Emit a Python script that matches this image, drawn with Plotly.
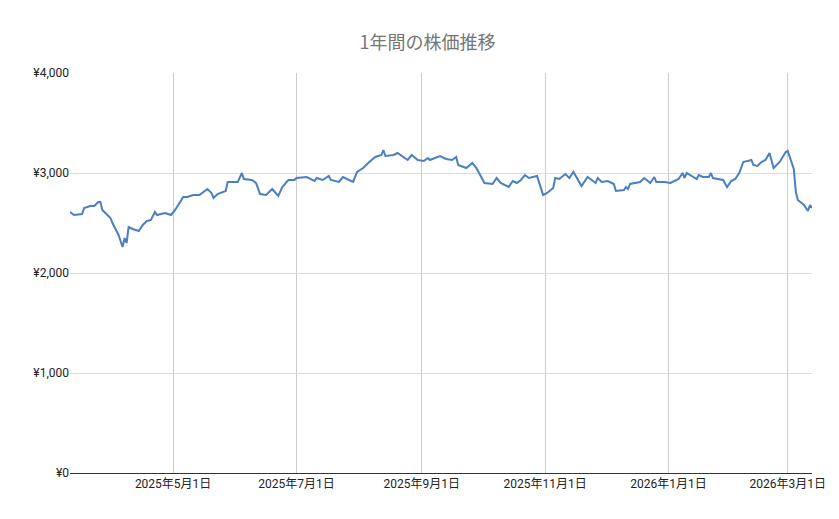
import pandas as pd
import plotly.graph_objects as go

start_date = "2025-03-11"
day_offsets = [0,2,6,7,10,12,14,15,16,20,21,24,26,27,28,29,31,34,36,38,40,42,43,47,50,52,56,58,61,64,68,70,71,73,77,78,83,85,86,90,92,94,97,100,103,105,108,111,112,117,121,122,125,128,129,133,135,140,142,145,148,151,154,155,156,160,162,167,169,172,175,177,
               178,183,186,189,191,192,196,199,201,205,209,211,213,217,219,221,223,225,227,231,234,236,239,240,242,245,247,249,253,256,260,261,263,266,269,270,274,275,276,277,282,284,287,289,290,294,297,301,303,304,305,310,311,313,316,317,318,323,325,327,329,331,333,337,338,340,342,344,346,348,351,354,355,358,359,360,363,365,366,367]
prices = [2610,2580,2590,2650,2670,2670,2710,2710,2630,2550,2500,2380,2260,2350,2300,2460,2440,2420,2480,2520,2530,2610,2580,2600,2580,2630,2760,2760,2780,2780,2840,2800,2750,2790,2820,2910,2910,3000,2940,2930,2900,2790,2780,2840,2770,2860,2930,2930,2950,2960,2920,2950,2930,2970,2930,2910,2960,2910,3010,3050,3110,3160,3180,3230,3170,3180,3200,3130,3180,3130,3120,3150,
          3130,3170,3140,3130,3160,3080,3050,3100,3050,2900,2890,2950,2900,2860,2920,2900,2930,2980,2950,2970,2780,2800,2850,2950,2940,2990,2950,3010,2870,2960,2900,2950,2910,2920,2890,2820,2830,2860,2840,2890,2910,2950,2900,2960,2910,2910,2900,2940,3000,2950,3000,2940,2980,2960,2960,3000,2950,2930,2860,2920,2940,3000,3110,3130,3080,3070,3110,3130,3200,3050,3110,3210,3220,3040,2810,2730,2680,2620,2680,2650]

dates = pd.Timestamp(start_date) + pd.to_timedelta(day_offsets, unit="D")

tick_dates = ["2025-05-01","2025-07-01","2025-09-01","2025-11-01","2026-01-01","2026-03-01"]
tick_labels = ["2025年5月1日","2025年7月1日","2025年9月1日","2025年11月1日","2026年1月1日","2026年3月1日"]
y_ticks = [0,1000,2000,3000,4000]
y_labels = ["¥0","¥1,000","¥2,000","¥3,000","¥4,000"]

fig = go.Figure(go.Scatter(x=dates, y=prices, mode="lines",
                           line=dict(color="#4a7fc1", width=2)))
fig.update_layout(
    width=839, height=519, paper_bgcolor="white", plot_bgcolor="white",
    margin=dict(l=62, r=35, t=65, b=54),
    title=dict(text="1年間の株価推移", x=0.5, y=0.945, xanchor="center",
               font=dict(size=18, color="#757575", family="Noto Sans CJK JP")),
    font=dict(family="Roboto, Noto Sans CJK JP", size=12, color="#222"),
    showlegend=False,
)
fig.update_xaxes(range=[dates[0], dates[-1]], tickvals=tick_dates, ticktext=tick_labels,
                 showgrid=True, gridcolor="#cccccc", showline=True, linecolor="#333",
                 ticks="", tickfont=dict(size=12))
fig.update_yaxes(range=[0, 4000], tickvals=y_ticks, ticktext=y_labels,
                 showgrid=True, gridcolor="#dddddd", zeroline=False, ticks="",
                 tickfont=dict(size=12))
fig.write_html("out.html")
